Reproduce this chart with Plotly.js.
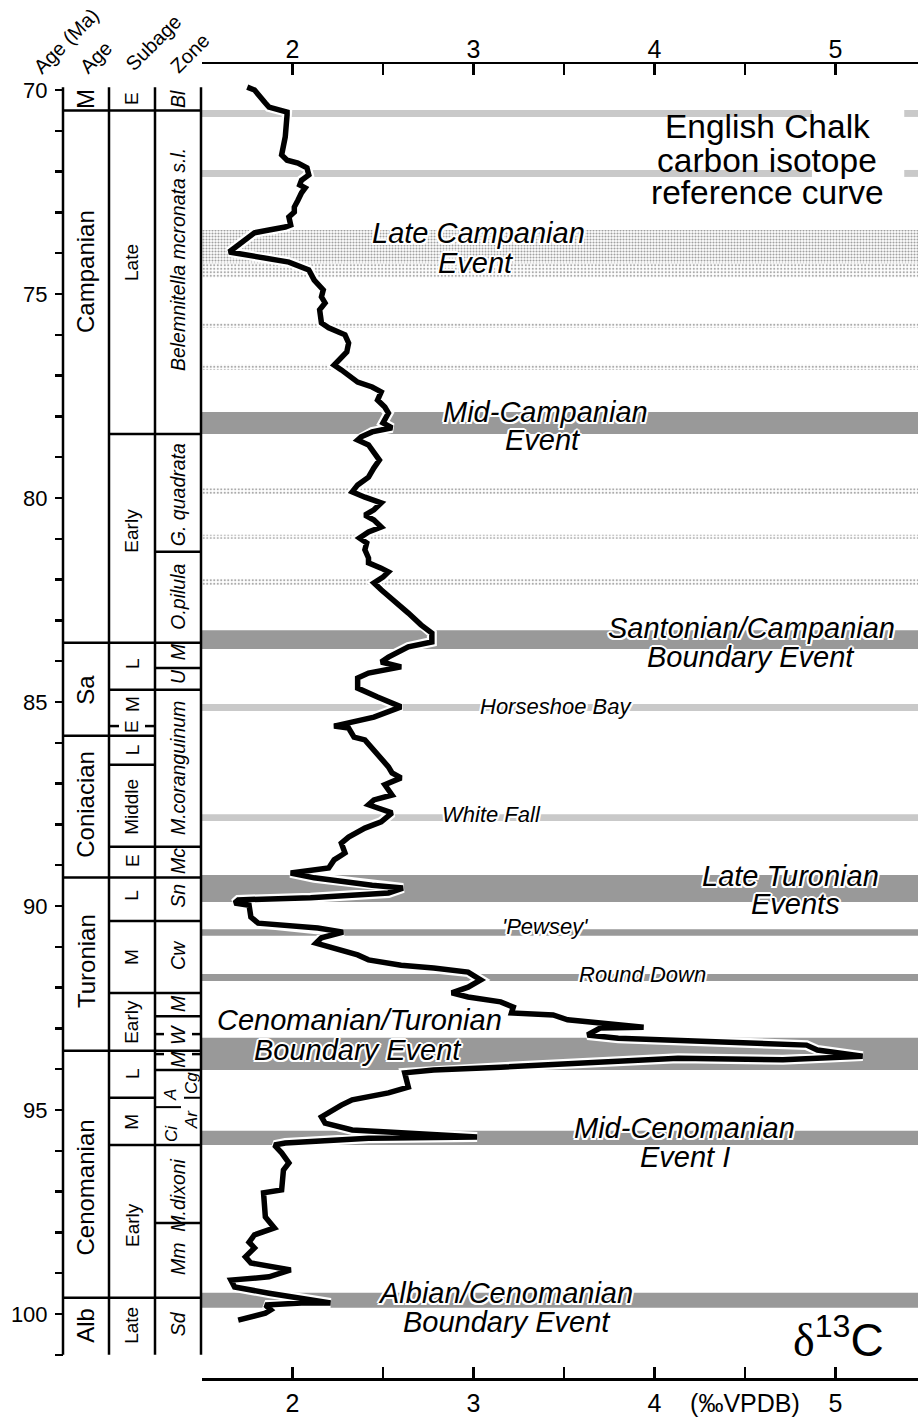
<!DOCTYPE html>
<html><head><meta charset="utf-8">
<script src="https://cdn.plot.ly/plotly-3.0.1.min.js"></script>
<style>body{margin:0;background:#fff}#chart{width:918px;height:1421px}</style>
</head><body><div id="chart"></div>
<script>
// ---- δ13C curve (‰ VPDB) against age (Ma)
const curveAge = [69.93,70.00,70.32,70.42,70.54,70.61,71.15,71.59,71.72,71.79,71.91,72.08,72.21,72.33,72.40,72.52,72.70,72.87,72.99,73.11,73.31,73.36,73.43,73.50,73.97,74.09,74.22,74.41,74.66,74.90,75.07,75.22,75.39,75.71,75.83,76.00,76.20,76.42,76.57,76.67,76.74,76.86,76.99,77.16,77.28,77.40,77.60,77.77,77.92,78.16,78.28,78.38,78.50,78.58,78.70,78.87,79.07,79.26,79.49,79.68,79.85,79.98,80.12,80.29,80.42,80.54,80.71,80.83,80.98,81.10,81.27,81.47,81.59,81.72,81.81,81.94,82.08,82.25,82.50,82.82,83.11,83.31,83.53,83.65,83.90,84.02,84.14,84.29,84.41,84.66,84.88,85.12,85.37,85.49,85.59,85.64,85.86,85.93,86.18,86.42,86.59,86.74,86.86,87.03,87.28,87.40,87.52,87.72,87.94,88.09,88.31,88.46,88.70,88.87,89.07,89.19,89.31,89.49,89.56,89.68,89.80,89.85,89.93,89.98,90.27,90.42,90.54,90.64,90.78,90.91,91.03,91.20,91.32,91.45,91.52,91.62,91.81,91.99,92.13,92.23,92.35,92.48,92.62,92.67,92.79,92.87,92.97,92.99,93.16,93.24,93.33,93.36,93.41,93.53,93.68,93.77,93.73,93.95,94.02,94.09,94.44,94.58,94.75,94.88,95.17,95.32,95.49,95.66,95.69,95.81,95.86,96.05,96.30,96.47,96.96,97.03,97.62,97.89,98.06,98.24,98.38,98.60,98.75,98.92,99.09,99.17,99.34,99.49,99.61,99.73,99.73,99.78,99.90,99.98,100.15];
const curveD13C = [1.75,1.79,1.85,1.87,1.97,1.97,1.96,1.94,1.97,2.03,2.08,2.09,2.05,2.04,2.07,2.05,2.03,2.01,2.01,1.98,1.99,1.96,1.87,1.79,1.65,1.79,1.98,2.09,2.12,2.17,2.16,2.18,2.15,2.16,2.20,2.29,2.31,2.30,2.27,2.25,2.23,2.27,2.31,2.36,2.44,2.49,2.47,2.51,2.53,2.50,2.55,2.44,2.38,2.36,2.42,2.45,2.48,2.45,2.42,2.36,2.33,2.40,2.49,2.45,2.40,2.45,2.49,2.42,2.37,2.41,2.40,2.42,2.42,2.49,2.53,2.50,2.45,2.49,2.56,2.64,2.71,2.77,2.77,2.64,2.53,2.49,2.60,2.42,2.36,2.36,2.47,2.60,2.45,2.33,2.23,2.31,2.34,2.40,2.45,2.49,2.53,2.55,2.60,2.51,2.55,2.45,2.42,2.55,2.49,2.40,2.31,2.27,2.29,2.23,2.20,1.99,2.12,2.44,2.61,2.53,2.10,1.70,1.68,1.76,1.77,1.81,2.14,2.28,2.16,2.13,2.23,2.36,2.42,2.60,2.78,2.97,3.04,2.97,2.88,2.97,3.15,3.22,3.21,3.44,3.52,3.70,3.94,3.70,3.63,3.80,4.33,4.44,4.84,4.90,5.15,4.71,4.13,3.15,2.78,2.62,2.64,2.53,2.33,2.27,2.16,2.18,2.33,3.02,2.42,1.96,1.90,1.94,1.98,1.95,1.94,1.84,1.85,1.90,1.79,1.76,1.79,1.74,1.77,1.99,1.87,1.66,1.68,1.87,2.05,2.21,2.05,1.85,1.88,1.85,1.70];

// ---- event bands (age top, age bottom)
const lightBandTop    = [70.49, 71.96, 85.05, 87.75];
const lightBandBottom = [70.66, 72.13, 85.22, 87.92];
const lightBandBreak  = [true, true, false, false];   // interrupted behind the title
const darkBandTop     = [77.89, 83.24, 89.24, 90.57, 91.67, 93.23, 95.51, 99.48];
const darkBandBottom  = [78.43, 83.70, 89.90, 90.73, 91.84, 94.02, 95.86, 99.85];
const denseDotTop     = [73.43];
const denseDotBottom  = [74.25];
const sparseDotTop    = [74.25, 75.71, 76.73, 79.76, 80.90, 81.98];
const sparseDotBottom = [74.60, 75.83, 76.86, 79.90, 81.00, 82.13];

// ---- stratigraphy
const ageNames  = ['M','Campanian','Sa','Coniacian','Turonian','Cenomanian','Alb'];
const ageLabelAt = [70.22, 74.46, 84.7, 87.52, 91.35, 96.9, 100.29];
const ageBounds = [70.5, 83.55, 85.83, 89.3, 93.55, 99.6];

const subNames  = ['E','Late','Early','L','M','E','L','Middle','E','L','M','Early','L','M','Early','Late'];
const subLabelAt = [70.22, 74.24, 80.8, 84.07, 85.05, 85.61, 86.18, 87.57, 88.9, 89.75, 91.25, 92.84, 94.12, 95.29, 97.82, 100.29];
const subBounds = [70.5, 78.43, 83.55, 84.7, 85.83, 86.54, 88.55, 89.3, 90.37, 92.13, 93.55, 94.7, 95.86, 99.6];
const subDashed = [85.59];

const zoneNames  = ['Bl','Belemnitella mcronata s.l.','G. quadrata','O.pilula','M','U','M.coranguinum','Mc','Sn','Cw','M','W','M','Cg','A','Ar','Ci','M.dixoni','Mm','Sd'];
const zoneLabelAt = [70.22, 74.17, 79.93, 82.42, 83.78, 84.39, 86.62, 88.9, 89.75, 91.2, 92.4, 93.16, 93.77, 94.34, 94.63, 95.25, 95.59, 97.1, 98.65, 100.25];
const zoneLabelCol = ['c','c','c','c','c','c','c','c','c','c','c','c','c','r','l','r','l','c','c','c'];
const zoneBounds = [70.5, 78.43, 81.32, 83.55, 84.17, 84.7, 88.55, 89.3, 90.37, 92.13, 92.7, 93.55, 94.02, 95.86, 97.77, 99.6];
const zoneDashed = [93.14, 93.63];
const zoneLeftSplit = [94.93];
const zoneRightSplit = [94.7];

const ageTicks = [70,71,72,73,74,75,76,77,78,79,80,81,82,83,84,85,86,87,88,89,90,91,92,93,94,95,96,97,98,99,100,101];
const ageTickLabels = ['70','','','','','75','','','','','80','','','','','85','','','','','90','','','','','95','','','','','100',''];
const isoTicks = [1.5,2,2.5,3,3.5,4,4.5,5];
const isoTopLabels = ['','2','','3','','4','','5'];
const isoBottomLabels = ['','2','','3','','4','(‰VPDB)','5'];

// ---- layout helpers (pixel -> paper)
const W = 918, H = 1421, T = 64, B = 1378;
const X = p => p / W;
const Y = p => (B - p) / (B - T);
const FONT = 'Liberation Sans, Arial, Helvetica, sans-serif';
const colX = [63, 109, 155, 201];
const XMIN = 1.5, XMAX = 5.456;
const GAP0 = 4.87, GAP1 = 5.38;

const shapes = [];
const ann = [];
const blk = {color:'#000', width:2.5};

// bands
const rect = (x0,x1,t,b,c)=>shapes.push({type:'rect',xref:'x',yref:'y',x0:x0,x1:x1,y0:t,y1:b,fillcolor:c,line:{width:0},layer:'below'});
lightBandTop.forEach((t,i)=>{
  if (lightBandBreak[i]) { rect(XMIN,GAP0,t,lightBandBottom[i],'#c9c9c9'); rect(GAP1,XMAX,t,lightBandBottom[i],'#c9c9c9'); }
  else rect(XMIN,XMAX,t,lightBandBottom[i],'#c9c9c9');
});
darkBandTop.forEach((t,i)=>rect(XMIN,XMAX,t,darkBandBottom[i],'#999999'));

// strat column
const colTop = 69.93, colBot = 101;
colX.forEach(c=>shapes.push({type:'line',xref:'paper',yref:'y',x0:X(c),x1:X(c),y0:colTop,y1:colBot,line:blk}));
const hl = (x0,x1,a,w)=>shapes.push({type:'line',xref:'paper',yref:'y',x0:X(x0),x1:X(x1),y0:a,y1:a,line:{color:'#000',width:w||2.5}});
ageBounds.forEach(a=>hl(colX[0],colX[1],a));
subBounds.forEach(a=>hl(colX[1],colX[2],a));
zoneBounds.forEach(a=>hl(colX[2],colX[3],a));
subDashed.forEach(a=>{hl(colX[1],colX[1]+10,a);hl(colX[2]-10,colX[2],a);});
zoneDashed.forEach(a=>{hl(colX[2],colX[2]+9,a);hl(colX[3]-9,colX[3],a);});
zoneLeftSplit.forEach(a=>hl(colX[2],181,a,2));
zoneRightSplit.forEach(a=>hl(184,colX[3],a,2));

// strat labels
const txt = (s,x,a,size,italic)=>ann.push({text:s,xref:'paper',yref:'y',x:X(x),y:a,showarrow:false,textangle:-90,xanchor:'center',yanchor:'middle',font:{family:FONT,size:size,color:'#000',style:italic?'italic':'normal'}});
ageNames.forEach((n,i)=>txt(n,86,ageLabelAt[i],24,false));
subNames.forEach((n,i)=>txt(n,132,subLabelAt[i],19,false));
zoneNames.forEach((n,i)=>{
  const c = zoneLabelCol[i];
  const x = c==='c'?178:(c==='r'?191:171);
  txt(n,x,zoneLabelAt[i],c==='c'?19.5:17,true);
});

// header labels
const hdr = (s,x,y)=>ann.push({text:s,xref:'paper',yref:'paper',x:X(x),y:Y(y),showarrow:false,textangle:-45,xanchor:'center',yanchor:'middle',font:{family:FONT,size:20,color:'#000'}});
hdr('Age (Ma)',66,41); hdr('Age',96,57); hdr('Subage',153,43); hdr('Zone',190,53);

// event labels
const halo = '2px 0 0 #fff, -2px 0 0 #fff, 0 2px 0 #fff, 0 -2px 0 #fff, 1.5px 1.5px 0 #fff, -1.5px -1.5px 0 #fff, 1.5px -1.5px 0 #fff, -1.5px 1.5px 0 #fff';
const ev = (s,x,y,size)=>ann.push({text:s,xref:'paper',yref:'paper',x:X(x),y:Y(y),showarrow:false,xanchor:'center',yanchor:'middle',font:{family:FONT,size:size,color:'#000',style:'italic',shadow:halo}});
ev('Late Campanian',478,233,29); ev('Event',476,263,29);
ev('Mid-Campanian',545,412,29); ev('Event',543,440,29);
ev('Santonian/Campanian',751,628,29); ev('Boundary Event',751,657,29);
ev('Horseshoe Bay',556,707,22);
ev('White Fall',491,815,22);
ev('Late Turonian',790,876,29); ev('Events',795,904,29);
ev("'Pewsey'",545,927,22);
ev('Round Down',642,974,22);
ev('Cenomanian/Turonian',359,1020,29); ev('Boundary Event',358,1050,29);
ev('Mid-Cenomanian',684,1128,29); ev('Event I',685,1157,29);
ev('Albian/Cenomanian',506,1293,29); ev('Boundary Event',507,1322,29);

// title
const ttl = (s,y)=>ann.push({text:s,xref:'paper',yref:'paper',x:X(767),y:Y(y),showarrow:false,xanchor:'center',yanchor:'middle',font:{family:FONT,size:33.5,color:'#000'}});
ttl('English Chalk',127); ttl('carbon isotope',160); ttl('reference curve',192);
ann.push({text:'<span style="font-family:Liberation Serif">δ</span><sup>13</sup>C',xref:'paper',yref:'paper',x:X(838),y:Y(1337),showarrow:false,xanchor:'center',yanchor:'middle',font:{family:FONT,size:46,color:'#000'}});

const dotBar = (tops,bots,size,sol,fg)=>({type:'bar',orientation:'h',xaxis:'x',yaxis:'y',
  y:tops.map((t,i)=>(t+bots[i])/2), width:tops.map((t,i)=>bots[i]-t),
  x:tops.map(()=>XMAX-XMIN), base:XMIN, hoverinfo:'skip', showlegend:false,
  marker:{color:'rgba(255,255,255,0)',line:{width:0},pattern:{shape:'.',size:size,solidity:sol,fgcolor:fg,bgcolor:'#ffffff',fillmode:'overlay'}}});

const data = [
  dotBar(denseDotTop,denseDotBottom,3,0.4,'#444'),
  dotBar(sparseDotTop,sparseDotBottom,3.5,0.3,'#555'),
  {type:'scatter',mode:'lines',x:curveD13C,y:curveAge,line:{color:'#fff',width:10},hoverinfo:'skip',showlegend:false},
  {type:'scatter',mode:'lines',x:curveD13C,y:curveAge,line:{color:'#000',width:5.5},showlegend:false},
  {type:'scatter',mode:'markers',x:[3],y:[85],xaxis:'x2',marker:{opacity:0},hoverinfo:'skip',showlegend:false}
];

const xcommon = {range:[XMIN,XMAX],showgrid:false,zeroline:false,showline:true,linecolor:'#000',linewidth:2.5,
  ticks:'inside',ticklen:11,tickwidth:2.5,tickcolor:'#000',tickvals:isoTicks,tickfont:{family:FONT,size:25,color:'#000'}};

const layout = {
  width:W,height:H,margin:{l:0,r:0,t:T,b:H-B},paper_bgcolor:'#fff',plot_bgcolor:'rgba(0,0,0,0)',
  showlegend:false,barmode:'overlay',
  xaxis:Object.assign({},xcommon,{domain:[X(202),1],anchor:'y',side:'bottom',ticktext:isoBottomLabels,ticklabelstandoff:1}),
  xaxis2:Object.assign({},xcommon,{overlaying:'x',anchor:'y',side:'top',ticktext:isoTopLabels,ticklabelstandoff:-6}),
  yaxis:{range:[101.569,69.363],anchor:'free',position:X(63),showgrid:false,zeroline:false,showline:false,
    ticks:'outside',ticklen:8,tickwidth:2.5,tickcolor:'#000',tickvals:ageTicks,ticktext:ageTickLabels,
    tickfont:{family:FONT,size:22,color:'#000'},ticklabelstandoff:3},
  shapes:shapes,annotations:ann
};
Plotly.newPlot('chart',data,layout,{staticPlot:true});
</script></body></html>
